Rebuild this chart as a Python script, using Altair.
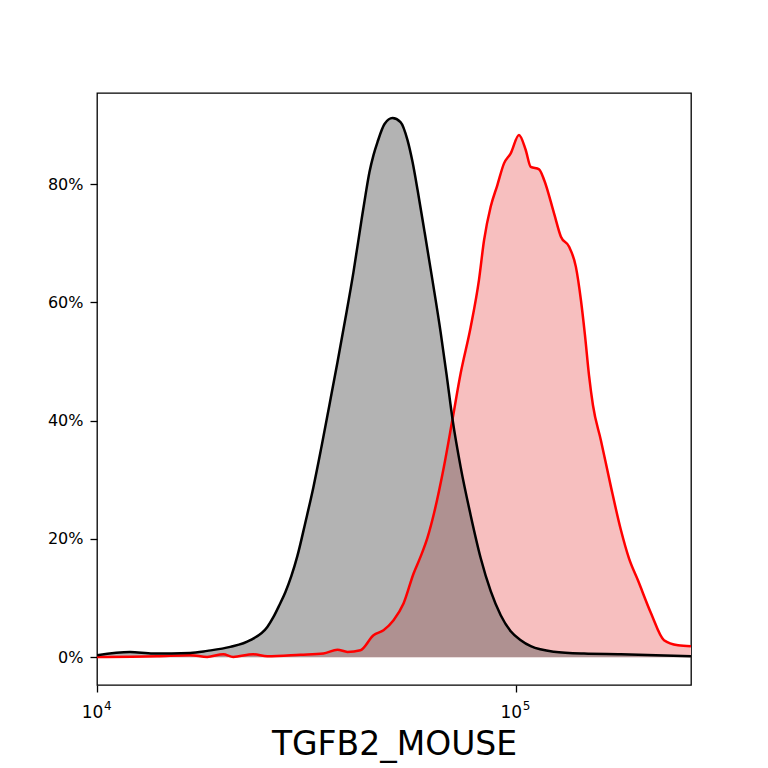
import altair as alt
import pandas as pd

# Black (control) histogram: x = fluorescence, y = % of max
black_x = [10000, 11990, 13610, 16690, 18330, 20810, 23230, 25510, 26370, 27250,
           28170, 29110, 30090, 31460, 32870, 34350, 35890, 37520, 39210, 40970,
           42820, 43770, 44740, 45740, 46760, 48600, 50780, 53070, 55150, 56700,
           58290, 60580, 63310, 66160, 68390, 70690, 73870, 78040, 82490, 87150,
           92070, 97270, 102800, 108600, 123300, 145500, 178300, 262144]
black_y = [0.34, 0.9, 0.63, 0.73, 1.07, 1.74, 2.88, 5.12, 6.77, 8.79,
           10.99, 13.7, 17.08, 22.83, 28.75, 35.52, 42.62, 49.89, 57.34, 65.12,
           73.91, 78.14, 82.03, 84.9, 87.1, 90.15, 91.16, 90.49, 87.44, 83.72,
           78.99, 71.88, 63.59, 54.97, 47.7, 40.08, 32.14, 24.02, 16.74, 11.16,
           7.1, 4.4, 2.88, 1.86, 0.93, 0.62, 0.51, 0.17]

# Red (stained) histogram
red_x = [10000, 13910, 16690, 18330, 20020, 21150, 23610, 25510, 30600, 34730,
         37520, 39640, 42580, 45740, 48330, 51070, 53950, 57020, 59260, 61600,
         63780, 67370, 70570, 73870, 78040, 81700, 84010, 87150, 90360, 93760,
         97270, 101800, 105600, 108600, 113700, 116900, 123500, 128200, 134100, 139200,
         143100, 146300, 149600, 152900, 159700, 168800, 178300, 186400, 195800, 210400,
         226000, 244100, 262144]
red_y = [0.05, 0.17, 0.34, 0.05, 0.51, 0.05, 0.51, 0.17, 0.42, 0.63,
         1.27, 0.9, 1.18, 3.72, 4.57, 6.26, 9.08, 14.16, 17.0, 20.3,
         24.3, 32.2, 40.1, 48.0, 55.8, 63.8, 70.5, 76.2, 79.8, 83.5,
         85.2, 88.3, 85.8, 82.9, 82.5, 80.7, 75.0, 71.1, 69.4, 66.0,
         60.4, 54.5, 47.7, 42.6, 36.7, 28.8, 21.5, 16.7, 13.0, 7.44,
         2.88, 2.03, 1.86]

x_ticks = [10000, 100000]
x_tick_base = "10"
x_tick_exponents = ["4", "5"]
y_ticks = [0, 20, 40, 60, 80]
x_title = "TGFB2_MOUSE"

black_df = pd.DataFrame({"x": black_x, "y": black_y})
red_df = pd.DataFrame({"x": red_x, "y": red_y})
sup_df = pd.DataFrame({"x": x_ticks, "t": x_tick_exponents})

FONT = "DejaVu Sans"

xscale = alt.Scale(type="log", domain=[10000, 262144], nice=False)
yscale = alt.Scale(domain=[-4.7, 95.4], nice=False, zero=False)

xaxis = alt.Axis(values=x_ticks, title=x_title,
                 labelExpr="'" + x_tick_base + "'",
                 grid=False, domain=False, tickColor="black", tickWidth=1.3,
                 tickSize=7, labelFont=FONT, labelFontSize=17, labelColor="black",
                 labelPadding=12, labelOffset=-5, labelFlush=False, labelOverlap=False,
                 titleFont=FONT, titleFontSize=33,
                 titleFontWeight="normal", titleColor="black", titlePadding=8)
yaxis = alt.Axis(values=y_ticks, title=None,
                 labelExpr="datum.value + '%'",
                 grid=False, domain=False, tickColor="black", tickWidth=1.3,
                 tickSize=7, labelFont=FONT, labelFontSize=16, labelColor="black",
                 labelPadding=7)

red_area = alt.Chart(red_df).mark_area(color="#f7bfbf", opacity=1, interpolate="monotone", clip=True).encode(
    x=alt.X("x:Q", scale=xscale, axis=xaxis),
    y=alt.Y("y:Q", scale=yscale, axis=yaxis),
    y2=alt.datum(0),
)
black_area = alt.Chart(black_df).mark_area(color="#5e5e5e", opacity=0.47, interpolate="monotone", clip=True).encode(
    x=alt.X("x:Q", scale=xscale),
    y=alt.Y("y:Q", scale=yscale),
    y2=alt.datum(0),
)
red_line = alt.Chart(red_df).mark_line(color="#ff0000", strokeWidth=2.5, interpolate="monotone", clip=True).encode(
    x=alt.X("x:Q", scale=xscale),
    y=alt.Y("y:Q", scale=yscale),
)
black_line = alt.Chart(black_df).mark_line(color="#000000", strokeWidth=2.5, interpolate="monotone", clip=True).encode(
    x=alt.X("x:Q", scale=xscale),
    y=alt.Y("y:Q", scale=yscale),
)
sup_text = alt.Chart(sup_df).mark_text(font=FONT, fontSize=12, color="black", align="left",
                                       baseline="alphabetic", dx=7).encode(
    x=alt.X("x:Q", scale=xscale),
    y=alt.value(617),
    text="t:N",
)

chart = alt.layer(red_area, black_area, red_line, black_line, sup_text).properties(
    width=594, height=592,
    autosize=alt.AutoSizeParams(type="none"),
    padding={"left": 89, "top": 85, "right": 69, "bottom": 83},
    background="white",
).configure_view(stroke="black", strokeWidth=1.3)

chart.save("out.html", embed_options={"renderer": "svg", "actions": False})
